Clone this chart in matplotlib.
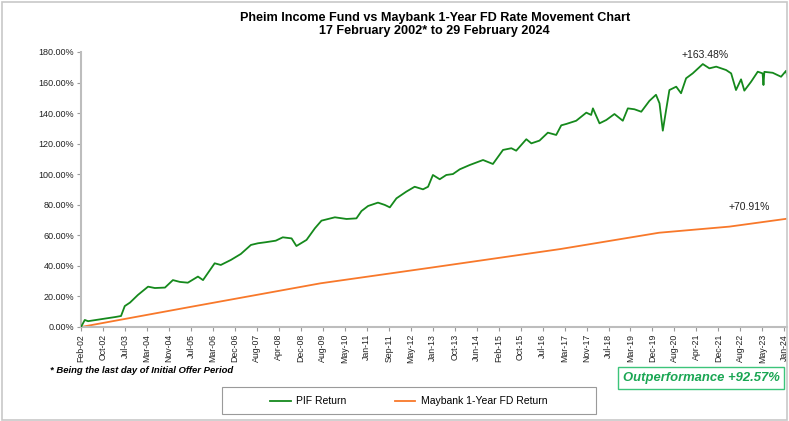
import numpy as np
import matplotlib.pyplot as plt
from matplotlib.patches import Rectangle

# ------------------------------------------------------------
# Data
# ------------------------------------------------------------
tick_labels = ["Feb-02", "Oct-02", "Jul-03", "Mar-04", "Nov-04", "Jul-05", "Mar-06",
               "Dec-06", "Aug-07", "Apr-08", "Dec-08", "Aug-09", "May-10", "Jan-11",
               "Sep-11", "May-12", "Jan-13", "Oct-13", "Jun-14", "Feb-15", "Oct-15",
               "Jul-16", "Mar-17", "Nov-17", "Jul-18", "Mar-19", "Dec-19", "Aug-20",
               "Apr-21", "Dec-21", "Aug-22", "May-23", "Jan-24"]

# time expressed in category-axis units (one unit per tick label)
pif_t = [0, 0.17, 0.32, 0.64, 1.09, 1.55, 1.82, 1.99, 2.23, 2.59, 3.05, 3.36, 3.82,
         4.18, 4.5, 4.86, 5.32, 5.55, 6.08, 6.36, 6.82, 7.27, 7.73, 8.05, 8.41, 8.86,
         9.18, 9.58, 9.80, 10.26, 10.64, 10.94, 11.55, 12.08, 12.53, 12.76, 13.06,
         13.51, 13.82, 14.05, 14.35, 14.80, 15.18, 15.56, 15.79, 16.01, 16.32, 16.62,
         16.92, 17.23, 17.68, 18.29, 18.74, 19.20, 19.58, 19.80, 20.26, 20.49, 20.86,
         21.24, 21.62, 21.85, 22.08, 22.53, 22.99, 23.21, 23.29, 23.59, 23.90, 24.27,
         24.65, 24.88, 25.18, 25.49, 25.86, 26.16, 26.32, 26.47, 26.62, 26.77, 27.08,
         27.30, 27.53, 27.83, 28.29, 28.59, 28.90, 29.35, 29.58, 29.80, 30.03, 30.18,
         30.49, 30.79, 31.01, 31.05, 31.09, 31.47, 31.85, 32.08, 32.14]
pif_ret = [0, 4.6, 3.8, 4.5, 5.5, 6.5, 7.2, 13.7, 16.0, 21.0, 26.4, 25.5, 25.8,
           30.7, 29.5, 29.0, 33.0, 30.7, 41.7, 40.6, 43.9, 47.8, 53.7, 54.8, 55.5, 56.5,
           58.7, 58.0, 53.0, 57.0, 64.6, 69.6, 71.8, 70.7, 71.1, 75.9, 79.2,
           81.4, 79.9, 78.3, 84.2, 88.6, 91.8, 90.1, 91.8, 99.5, 96.7, 99.5,
           100.1, 103.2, 106.0, 109.3, 106.7, 115.9, 117.0, 115.4, 122.9, 120.2, 122.0,
           127.2, 125.7, 132.0, 132.9, 135.0, 140.3, 138.8, 143.1, 133.3, 135.5, 139.4,
           135.0, 143.1, 142.5, 140.9, 148.0, 152.0, 146.4, 128.5, 142.0, 155.1, 157.3,
           153.0, 162.8, 166.0, 172.1, 169.3, 170.4, 168.2, 166.0, 155.1, 162.1, 154.7,
           160.6, 167.1, 166.0, 158.4, 167.0, 166.4, 163.8, 167.7, 163.48]

fd_t = [0, 5.0, 10.9, 16.0, 21.8, 26.3, 29.5, 32.14]
fd_ret = [0, 13.2, 28.6, 39.0, 51.0, 61.7, 65.7, 70.91]

pif_final = 163.48
fd_final = 70.91
outperformance = 92.57

# ------------------------------------------------------------
# Plot
# ------------------------------------------------------------
plt.rcParams["font.family"] = ["Liberation Sans", "DejaVu Sans"]

fig = plt.figure(figsize=(7.89, 4.21), dpi=100)
ax = fig.add_axes([0.1027, 0.2233, 0.8953, 0.6532])

green = "#15891c"
orange = "#f8782a"

ax.plot(pif_t, pif_ret, color=green, linewidth=1.3, label="PIF Return", zorder=3)
ax.plot(fd_t, fd_ret, color=orange, linewidth=1.3, label="Maybank 1-Year FD Return", zorder=2)

ax.set_xlim(0, 32.14)
ax.set_ylim(0, 180)
ax.set_yticks(np.arange(0, 181, 20))
ax.set_yticklabels([f"{v:.2f}%" for v in np.arange(0, 181, 20)], fontsize=6.5, color="#222222")
ax.set_xticks(np.arange(len(tick_labels)))
ax.set_xticklabels(tick_labels, rotation=90, fontsize=6.3, color="#222222")

for side in ["top", "right"]:
    ax.spines[side].set_visible(False)
for side in ["left", "bottom"]:
    ax.spines[side].set_color("#bdbdbd")
    ax.spines[side].set_linewidth(1.5)
ax.tick_params(axis="both", color="#9a9a9a", length=3, width=0.8, pad=2)

# end-value annotations
ax.annotate(f"+{pif_final:.2f}%", xy=(pif_t[-1], pif_final), xytext=(28.4, 178),
            textcoords="data", fontsize=7.5, ha="center", va="center", color="#222222")
ax.annotate(f"+{fd_final:.2f}%", xy=(fd_t[-1], fd_final), xytext=(30.4, 78.5),
            textcoords="data", fontsize=7.5, ha="center", va="center", color="#222222")

# titles
fig.text(0.551, 0.957, "Pheim Income Fund vs Maybank 1-Year FD Rate Movement Chart",
         ha="center", va="center", fontsize=9.1, fontweight="bold")
fig.text(0.551, 0.927, "17 February 2002* to 29 February 2024",
         ha="center", va="center", fontsize=9.1, fontweight="bold")

# footnote
fig.text(0.064, 0.119, "* Being the last day of Initial Offer Period",
         ha="left", va="center", fontsize=6.8, fontweight="bold", style="italic")

# outperformance box
fig.text(0.889, 0.102, f"Outperformance +{outperformance:.2f}%", ha="center", va="center",
         fontsize=9.4, fontweight="bold", style="italic", color="#1aa653",
         bbox=dict(boxstyle="square,pad=0.35", facecolor="white", edgecolor="#3cc47a", linewidth=1))

# legend (entries without frame, frame drawn separately to match the wide box)
fig.legend(loc="center", bbox_to_anchor=(0.518, 0.047), ncol=2, fontsize=7.5,
           frameon=False, handlelength=2.0, columnspacing=4.6, handletextpad=0.5)
fig.patches.append(Rectangle((222 / 789, 7 / 421), 374 / 789, 27 / 421, transform=fig.transFigure,
                             fill=False, edgecolor="#9a9a9a", linewidth=0.8))

# outer frame
fig.patches.append(Rectangle((0.002, 0.002), 0.996, 0.994, transform=fig.transFigure,
                             fill=False, edgecolor="#c8c8c8", linewidth=1.2))

fig.savefig("out.png", dpi=100)
